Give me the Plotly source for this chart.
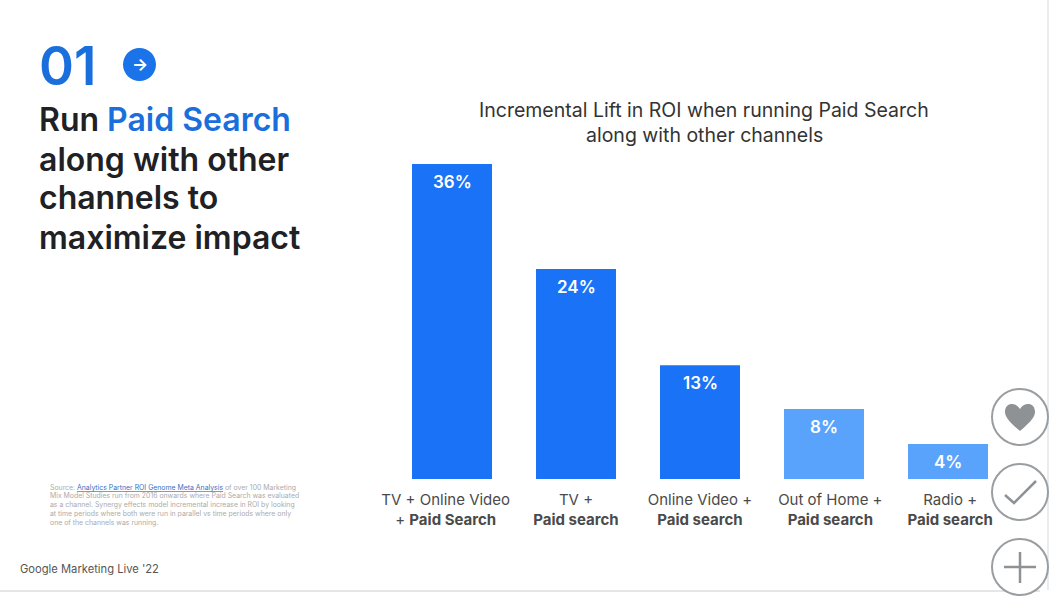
import plotly.graph_objects as go

W, H = 1050, 606

categories = ["TV + Online Video + Paid Search", "TV + Paid search", "Online Video + Paid search",
              "Out of Home + Paid search", "Radio + Paid search"]
tick_labels = ["TV + Online Video\u00a0\u00a0\u00a0<br>+ <b>Paid Search</b>\u00a0\u00a0\u00a0",
               "TV +<br><b>Paid search</b>",
               "Online Video +<br><b>Paid search</b>",
               "\u00a0\u00a0\u00a0Out of Home +<br>\u00a0\u00a0\u00a0<b>Paid search</b>",
               "\u00a0Radio +<br>\u00a0<b>Paid search</b>"]
lift_values = [36, 24, 13, 8, 4]
bar_labels = ["36%", "24%", "13%", "8%", "4%"]
bar_colors = ["#1A72F6", "#1A72F6", "#1A72F6", "#5AA3FC", "#5AA3FC"]

FONT = "Inter"
BLUE = "#1A6FDC"
INK = "#202124"
GREY = "#8E9295"


def px(x):
    return x / W


def py(y):
    return 1 - y / H


fig = go.Figure(go.Bar(
    x=categories, y=lift_values, marker=dict(color=bar_colors, line=dict(width=0)),
    hoverinfo="skip", width=0.645,
))

for cat, val, txt in zip(categories, lift_values, bar_labels):
    fig.add_annotation(xref="x", yref="y", x=cat, y=val, yshift=-18, text=txt, showarrow=False,
                       xanchor="center", yanchor="middle",
                       font=dict(family=FONT, size=17, color="white", weight=600))


def label(x, y, text, size, color=INK, anchor="left", weight=400):
    fig.add_annotation(xref="paper", yref="paper", x=px(x), y=py(y), text=text, showarrow=False,
                       xanchor=anchor, yanchor="middle", align=anchor,
                       font=dict(family=FONT, size=size, color=color, weight=weight),
                       borderpad=0, borderwidth=0)


label(39, 66, "01", 53, BLUE, weight=600)
label(39, 119, f'Run <span style="color:{BLUE}">Paid Search</span>', 32, weight=600)
label(39, 159, "along with other", 32, weight=600)
label(39, 197, "channels to", 32, weight=600)
label(39, 237, "maximize impact", 32, weight=600)
label(704, 110, "Incremental Lift in ROI when running Paid Search", 19.5, "#333333", "center")
label(704, 135, "along with other channels", 19.5, "#333333", "center")
label(139.5, 64, "→", 17, "white", "center", 700)

src = [
    'Source: <span style="color:#3A6FC0"><u>Analytics Partner ROI Genome Meta Analysis</u></span> of over 100 Marketing',
    "Mix Model Studies run from 2016 onwards where Paid Search was evaluated",
    "as a channel. Synergy effects model incremental increase in ROI by looking",
    "at time periods where both were run in parallel vs time periods where only",
    "one of the channels was running.",
]
for i, line in enumerate(src):
    label(50, 487 + i * 8.9, line, 6.9, "#ABABAB")
label(20, 569, "Google Marketing Live '22", 11.2, "#555555")

# slide frame and decoration
shapes = [
    dict(type="line", x0=0, x1=px(1040), y0=py(591), y1=py(591), line=dict(color="#E4E6E8", width=2)),
    dict(type="line", x0=px(1048), x1=px(1048), y0=py(0), y1=py(590), line=dict(color="#E4E6E8", width=1.5)),
    dict(type="circle", x0=px(123), x1=px(156), y0=py(48), y1=py(81), fillcolor="#1A73E8", line=dict(width=0)),
]
for cy in (417, 492, 567):
    shapes.append(dict(type="circle", x0=px(992), x1=px(1048), y0=py(cy - 28), y1=py(cy + 28),
                       fillcolor="white", line=dict(color="#9A9EA1", width=2)))


def path(points):
    return "M" + " L".join(f"{px(x):.5f},{py(y):.5f}" for x, y in points)


heart = (f"M{px(1020):.5f},{py(431):.5f} "
         f"C{px(1008):.5f},{py(421):.5f} {px(1005):.5f},{py(416):.5f} {px(1005):.5f},{py(412):.5f} "
         f"C{px(1005):.5f},{py(402):.5f} {px(1016):.5f},{py(402):.5f} {px(1020):.5f},{py(409):.5f} "
         f"C{px(1024):.5f},{py(402):.5f} {px(1035):.5f},{py(402):.5f} {px(1035):.5f},{py(412):.5f} "
         f"C{px(1035):.5f},{py(416):.5f} {px(1032):.5f},{py(421):.5f} {px(1020):.5f},{py(431):.5f} Z")
shapes.append(dict(type="path", path=heart, fillcolor=GREY, line=dict(width=0)))
shapes.append(dict(type="path", path=path([(1005, 495), (1014, 503), (1036, 481)]),
                   line=dict(color=GREY, width=2.5)))
shapes.append(dict(type="line", x0=px(1004), x1=px(1036), y0=py(567), y1=py(567), line=dict(color=GREY, width=2.5)))
shapes.append(dict(type="line", x0=px(1020), x1=px(1020), y0=py(552), y1=py(583), line=dict(color=GREY, width=2.5)))
for s in shapes:
    s.update(xref="paper", yref="paper", layer="above")

fig.update_layout(
    width=W, height=H, margin=dict(l=0, r=0, t=0, b=0, autoexpand=False), autosize=False,
    paper_bgcolor="white", plot_bgcolor="white", showlegend=False, shapes=shapes,
    xaxis=dict(domain=[px(390), px(1010)], range=[-0.5, 4.5], type="category", automargin=False,
               tickmode="array", tickvals=categories, ticktext=tick_labels,
               showgrid=False, zeroline=False, showline=False, ticks="", ticklabelstandoff=10,
               tickangle=0, tickfont=dict(family=FONT, size=15, color="#4A4A4A")),
    yaxis=dict(domain=[py(479), py(164)], range=[0, 36], visible=False, showgrid=False, zeroline=False,
               automargin=False),
)

fig.write_html("out.html", config=dict(displayModeBar=False),
               post_script="document.body.style.margin='0';")
